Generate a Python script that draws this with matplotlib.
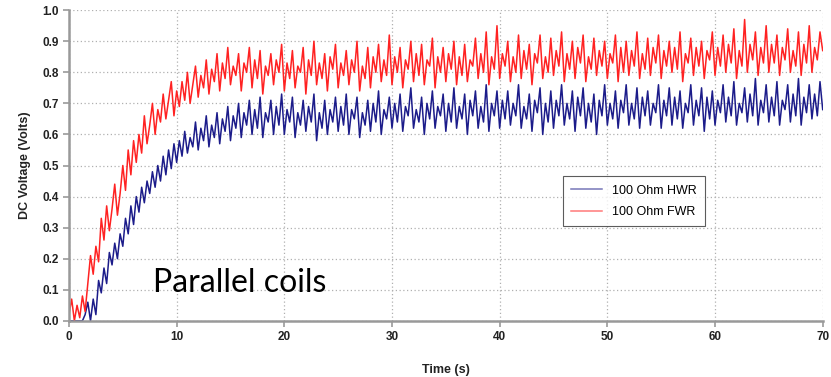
import matplotlib
matplotlib.use("Agg")
import matplotlib.pyplot as plt
import numpy as np

# values, one sample every 0.25 s from 0 to 70 s
fwr_volts = [
    0.02, 0.07, 0.00, 0.05, 0.01, 0.08, 0.03, 0.12, 0.21, 0.15, 0.24, 0.19, 0.33, 0.26, 0.37, 0.29, 0.36, 0.44, 0.34, 0.41,
    0.50, 0.42, 0.55, 0.47, 0.58, 0.51, 0.60, 0.54, 0.66, 0.57, 0.63, 0.70, 0.60, 0.68, 0.64, 0.73, 0.65, 0.71, 0.77, 0.66,
    0.74, 0.69, 0.77, 0.71, 0.80, 0.70, 0.76, 0.82, 0.72, 0.79, 0.75, 0.84, 0.73, 0.81, 0.77, 0.86, 0.74, 0.83, 0.78, 0.88,
    0.76, 0.82, 0.79, 0.86, 0.74, 0.83, 0.80, 0.88, 0.75, 0.84, 0.78, 0.87, 0.73, 0.82, 0.79, 0.86, 0.76, 0.84, 0.80, 0.89,
    0.74, 0.83, 0.78, 0.87, 0.75, 0.82, 0.80, 0.88, 0.73, 0.84, 0.79, 0.90, 0.76, 0.83, 0.78, 0.86, 0.74, 0.85, 0.81, 0.89,
    0.75, 0.83, 0.79, 0.87, 0.76, 0.84, 0.80, 0.90, 0.74, 0.82, 0.78, 0.88, 0.75, 0.85, 0.80, 0.89, 0.77, 0.84, 0.79, 0.92,
    0.76, 0.85, 0.80, 0.88, 0.75, 0.84, 0.81, 0.90, 0.77, 0.86, 0.79, 0.89, 0.76, 0.84, 0.82, 0.91, 0.75, 0.85, 0.80, 0.88,
    0.77, 0.86, 0.81, 0.90, 0.76, 0.85, 0.79, 0.89, 0.77, 0.84, 0.82, 0.91, 0.78, 0.86, 0.80, 0.93, 0.76, 0.85, 0.81, 0.95,
    0.78, 0.86, 0.82, 0.90, 0.77, 0.85, 0.80, 0.92, 0.78, 0.87, 0.81, 0.89, 0.76, 0.86, 0.83, 0.92, 0.78, 0.85, 0.80, 0.91,
    0.79, 0.87, 0.82, 0.93, 0.77, 0.86, 0.81, 0.90, 0.78, 0.88, 0.83, 0.92, 0.77, 0.85, 0.81, 0.91, 0.79, 0.87, 0.82, 0.90,
    0.78, 0.86, 0.83, 0.92, 0.77, 0.88, 0.80, 0.90, 0.79, 0.87, 0.82, 0.93, 0.78, 0.86, 0.81, 0.91, 0.79, 0.88, 0.83, 0.92,
    0.78, 0.87, 0.82, 0.90, 0.80, 0.88, 0.81, 0.93, 0.77, 0.86, 0.83, 0.91, 0.79, 0.88, 0.82, 0.90, 0.78, 0.87, 0.84, 0.93,
    0.79, 0.88, 0.82, 0.92, 0.80, 0.89, 0.83, 0.94, 0.78, 0.87, 0.82, 0.97, 0.80, 0.89, 0.84, 0.93, 0.79, 0.88, 0.83, 0.95,
    0.80, 0.89, 0.83, 0.92, 0.79, 0.88, 0.84, 0.94, 0.80, 0.87, 0.82, 0.93, 0.79, 0.89, 0.83, 0.95, 0.80, 0.88, 0.84, 0.93,
    0.87,
]

hwr_volts = [
    0.00, 0.00, 0.00, 0.00, 0.00, 0.00, 0.02, 0.06, 0.00, 0.07, 0.02, 0.13, 0.09, 0.17, 0.12, 0.22, 0.18, 0.25, 0.20, 0.28,
    0.24, 0.33, 0.28, 0.37, 0.31, 0.40, 0.35, 0.43, 0.38, 0.45, 0.41, 0.48, 0.43, 0.50, 0.45, 0.53, 0.47, 0.55, 0.49, 0.57,
    0.51, 0.58, 0.53, 0.61, 0.54, 0.59, 0.56, 0.64, 0.55, 0.62, 0.58, 0.66, 0.56, 0.63, 0.59, 0.67, 0.57, 0.65, 0.61, 0.69,
    0.58, 0.66, 0.62, 0.70, 0.59, 0.67, 0.63, 0.71, 0.60, 0.68, 0.62, 0.72, 0.59, 0.67, 0.64, 0.71, 0.60, 0.69, 0.63, 0.73,
    0.60, 0.68, 0.64, 0.72, 0.59, 0.67, 0.63, 0.71, 0.61, 0.69, 0.64, 0.73, 0.58, 0.67, 0.62, 0.71, 0.60, 0.68, 0.64, 0.72,
    0.61, 0.69, 0.63, 0.73, 0.60, 0.68, 0.65, 0.72, 0.59, 0.67, 0.63, 0.71, 0.61, 0.70, 0.64, 0.74, 0.60, 0.68, 0.65, 0.72,
    0.62, 0.70, 0.64, 0.73, 0.61, 0.69, 0.66, 0.75, 0.62, 0.68, 0.64, 0.72, 0.60, 0.70, 0.65, 0.74, 0.62, 0.69, 0.66, 0.73,
    0.61, 0.70, 0.64, 0.75, 0.62, 0.69, 0.65, 0.73, 0.60, 0.71, 0.66, 0.74, 0.62, 0.69, 0.64, 0.76, 0.61, 0.70, 0.66, 0.74,
    0.62, 0.71, 0.65, 0.74, 0.63, 0.70, 0.66, 0.76, 0.62, 0.69, 0.65, 0.73, 0.61, 0.71, 0.67, 0.75, 0.60, 0.70, 0.64, 0.74,
    0.62, 0.71, 0.66, 0.76, 0.63, 0.70, 0.65, 0.74, 0.61, 0.72, 0.66, 0.75, 0.62, 0.70, 0.64, 0.73, 0.60, 0.71, 0.66, 0.76,
    0.63, 0.70, 0.65, 0.74, 0.62, 0.71, 0.67, 0.76, 0.63, 0.70, 0.65, 0.75, 0.62, 0.72, 0.66, 0.74, 0.63, 0.70, 0.67, 0.76,
    0.62, 0.71, 0.66, 0.75, 0.63, 0.72, 0.65, 0.74, 0.62, 0.70, 0.67, 0.76, 0.63, 0.71, 0.66, 0.75, 0.61, 0.72, 0.65, 0.74,
    0.63, 0.71, 0.67, 0.76, 0.64, 0.72, 0.66, 0.77, 0.63, 0.70, 0.67, 0.75, 0.64, 0.73, 0.66, 0.78, 0.63, 0.71, 0.67, 0.76,
    0.64, 0.72, 0.66, 0.77, 0.63, 0.71, 0.68, 0.76, 0.64, 0.73, 0.66, 0.78, 0.63, 0.72, 0.67, 0.76, 0.65, 0.73, 0.66, 0.77,
    0.68,
]

x_ticks = [0, 10, 20, 30, 40, 50, 60, 70]
y_ticks = [0.0, 0.1, 0.2, 0.3, 0.4, 0.5, 0.6, 0.7, 0.8, 0.9, 1.0]

plt.rcParams["font.family"] = ["Liberation Sans", "DejaVu Sans"]

fig = plt.figure(figsize=(8.31, 3.77), dpi=100)
ax = fig.add_axes([0.083, 0.149, 0.907, 0.824])

t_hwr = np.linspace(0, 70, len(hwr_volts))
t_fwr = np.linspace(0, 70, len(fwr_volts))
ax.plot(t_hwr, hwr_volts, color="#1c1c8a", linewidth=1.1, label="100 Ohm HWR")
ax.plot(t_fwr, fwr_volts, color="#ff2222", linewidth=1.1, label="100 Ohm FWR")

ax.set_xlim(0, 70)
ax.set_ylim(0, 1.0)
ax.set_xticks(x_ticks)
ax.set_yticks(y_ticks)
ax.set_yticklabels([f"{v:.1f}" for v in y_ticks])
ax.tick_params(labelsize=8.5, colors="#999999", length=4, width=1.2)
for lbl in ax.get_xticklabels() + ax.get_yticklabels():
    lbl.set_fontweight("bold")
    lbl.set_color("#222222")

ax.grid(True, linestyle=(0, (1, 2)), color="#b0b0b0", linewidth=0.9)
ax.set_axisbelow(True)
for side in ["top", "right"]:
    ax.spines[side].set_visible(False)
for side in ["left", "bottom"]:
    ax.spines[side].set_color("#999999")
    ax.spines[side].set_linewidth(1.8)

ax.set_xlabel("Time (s)", fontsize=9, fontweight="bold", color="#222222", labelpad=15)
ax.set_ylabel("DC Voltage (Volts)", fontsize=9, fontweight="bold", color="#222222", labelpad=8)

leg = ax.legend(loc="lower left", bbox_to_anchor=(0.647, 0.285), fontsize=9,
                frameon=True, fancybox=False, borderpad=0.65, handlelength=2.5,
                labelspacing=0.75)
leg.get_frame().set_edgecolor("#333333")
leg.get_frame().set_linewidth(0.8)
for line in leg.get_lines():
    line.set_alpha(0.6)

ax.text(7.8, 0.093, "Parallel coils", fontsize=23, family=["Lato", "DejaVu Sans"],
        va="baseline", ha="left", color="black")

fig.savefig("out.png", dpi=100, facecolor="white")
